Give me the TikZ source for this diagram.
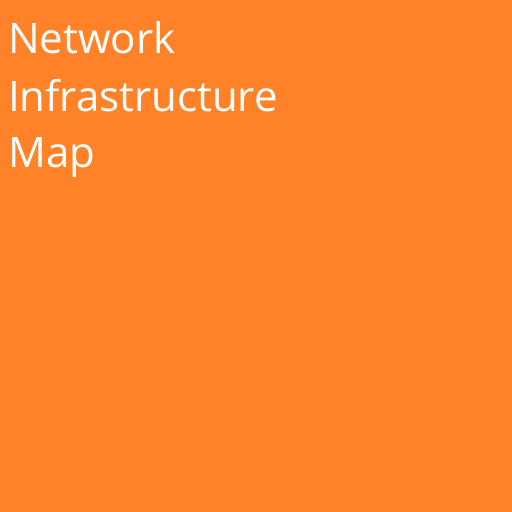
\documentclass[tikz,border=0pt]{standalone}
\usepackage{fontspec}
\setmainfont{Open Sans}
\definecolor{mapbg}{RGB}{255,130,40}
\tikzset{
  titleline/.style={anchor=base west, inner sep=0pt, text=white,
    font=\fontsize{42}{50}\selectfont}
}
\begin{document}
\begin{tikzpicture}[x=1pt,y=1pt]
  \fill[mapbg] (0,0) rectangle (512,512);
  \useasboundingbox (0,0) rectangle (512,512);
  \node[titleline] (line1) at (8,458.7) {Network};
  \node[titleline] (line2) at (8,400.3) {Infrastructure};
  \node[titleline] (line3) at (8,344) {Map};
\end{tikzpicture}
\end{document}
